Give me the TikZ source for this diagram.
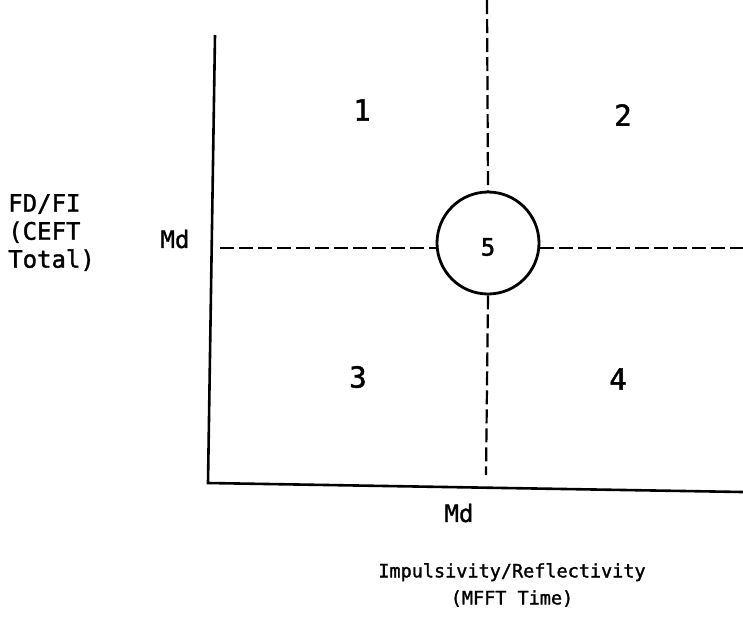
\documentclass[tikz,border=0pt]{standalone}
\usepackage{fontspec}
\newfontfamily\typew{DejaVu Sans Mono}[FakeBold=1.5]
\tikzset{
  lbl/.style={font=\typew\fontsize{24}{28}\selectfont, inner sep=0pt},
  digit/.style={font=\typew\fontsize{29}{32}\selectfont, inner sep=0pt},
  axis/.style={line width=2.6pt},
  mdash/.style={line width=2.2pt, dash pattern=on 14pt off 5pt}
}
\begin{document}
\begin{tikzpicture}[x=1pt, y=-1pt]
  \useasboundingbox (0,0) rectangle (743,630);
  \coordinate (Ytop) at (215,35);
  \coordinate (O) at (208,483);
  \coordinate (Xend) at (743,492);
  \coordinate (Vtop) at (487,0);
  \coordinate (Vbot) at (486,475);
  \coordinate (Hleft) at (220,248);
  \coordinate (Hright) at (743,248);
  \node[draw, circle, line width=2.8pt, minimum size=102pt, inner sep=0pt] (c5) at (488,243) {};
  \node[lbl] (n5) at (488,247) {5};
  \draw[axis] (Ytop) -- (O) -- (Xend);
  \draw[mdash] (Vtop) -- (c5.north);
  \draw[mdash] (c5.south) -- (Vbot);
  \draw[mdash] (Hleft) -- (c5.west |- Hleft);
  \draw[mdash] (c5.east |- Hright) -- (Hright);
  \node[digit] (q1) at (362,110) {1};
  \node[digit] (q2) at (623,115) {2};
  \node[digit] (q3) at (358,377) {3};
  \node[digit] (q4) at (618,379) {4};
  \node[lbl] (mdy) at (175,239) {Md};
  \node[lbl] (mdx) at (459,513) {Md};
  \node[lbl, align=left, anchor=north west] (ylab) at (8,194) {FD/FI\\(CEFT\\Total)};
  \node[lbl, align=center, anchor=north, font=\typew\fontsize{18.5}{27}\selectfont] (xlab) at (512,563) {Impulsivity/Reflectivity\\(MFFT Time)};
\end{tikzpicture}
\end{document}
